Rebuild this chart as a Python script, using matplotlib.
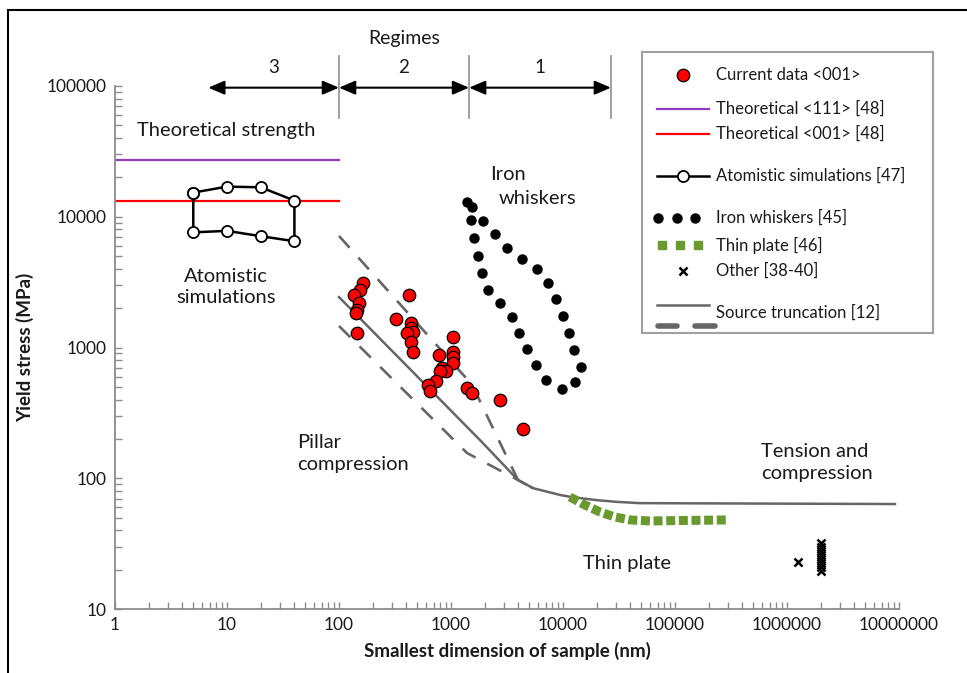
import matplotlib
matplotlib.use("Agg")
import matplotlib.pyplot as plt
from matplotlib.lines import Line2D
from matplotlib.ticker import LogLocator, NullFormatter, FixedLocator

plt.rcParams['font.family'] = ['Lato', 'DejaVu Sans']

# ---- data ----
theo_111 = 27300
theo_001 = 13200
theo_x = [1, 100]

atom_x = [5, 10, 20, 40, 40, 20, 10, 5, 5]
atom_y = [15300, 17000, 16800, 13300, 6500, 7100, 7800, 7600, 15300]

cur_x = [163, 154, 137, 151, 146, 142, 144, 419, 325, 439, 439, 455, 407, 439, 461,
         1042, 781, 1035, 1035, 1049, 826, 897, 797, 735, 627, 649, 1380, 1530, 2738, 4365]
cur_y = [3100, 2750, 2540, 2200, 1940, 1850, 1285, 2540, 1650, 1530, 1420, 1310, 1285, 1107, 925,
         1210, 881, 929, 842, 757, 693, 665, 661, 557, 517, 465, 493, 447, 397, 239]

whisk_x = [1381, 1531, 1500, 1941, 2472, 1604, 3184, 1754, 4278, 5818, 1879, 7396, 2127,
           8610, 2738, 9940, 3483, 11380, 4074, 12610, 4800, 14390, 5740, 7050, 12790, 9730]
whisk_y = [13040, 11940, 9440, 9330, 7340, 6920, 5740, 5040, 4750, 3985, 3690, 3130, 2750,
           2350, 2200, 1750, 1720, 1284, 1284, 957, 969, 706, 731, 564, 548, 479]

plate_x = [11500, 15700, 21400, 29100, 39600, 59800, 110000, 290000]
plate_y = [72, 62.4, 55.2, 50.5, 48.0, 47.1, 47.5, 48.0]

other_x = [1260000, 2000000, 2000000, 2000000, 2000000, 2000000, 2000000, 2000000, 2000000]
other_y = [23, 19.5, 21, 22.5, 24, 26, 28, 30, 32]

trunc_x = [100, 1890, 3960, 5400, 9400, 12300, 20000, 30000, 48700, 9200000]
trunc_y = [2430, 189, 97, 84, 74.5, 71.5, 68, 66, 64.5, 63.5]
trunc_hi_x = [100, 1540, 3960, 5400]
trunc_hi_y = [7130, 520, 97, 84]
trunc_lo_x = [100, 1390, 3960, 5400]
trunc_lo_y = [1460, 156, 97, 84]

regime_edges = [6.8, 100, 1450, 26800]
regime_names = ['3', '2', '1']

axis_grey = '#8c8c8c'
line_grey = '#666666'
txt = '#1a1a1a'

fig = plt.figure(figsize=(9.67, 6.73), dpi=100)
ax = fig.add_axes([115 / 967, 64 / 673, 784 / 967, 523 / 673])

ax.set_xscale('log')
ax.set_yscale('log')
ax.set_xlim(1, 1e7)
ax.set_ylim(10, 1e5)

# theoretical strength
ax.plot(theo_x, [theo_111, theo_111], color='#8e3fbf', lw=1.6)
ax.plot(theo_x, [theo_001, theo_001], color='#ff0000', lw=1.6)

# atomistic simulations
ax.plot(atom_x, atom_y, color='black', lw=1.8, marker='o', ms=8,
        mfc='white', mec='black', mew=1.3)

# source truncation
ax.plot(trunc_x, trunc_y, color=line_grey, lw=1.8)
ax.plot(trunc_hi_x, trunc_hi_y, color=line_grey, lw=1.9, ls=(0, (6, 5)))
ax.plot(trunc_lo_x, trunc_lo_y, color=line_grey, lw=1.9, ls=(0, (6, 5)))

# thin plate
ax.plot(plate_x, plate_y, color='#6a9a2e', lw=6.5, ls=(0, (1, 0.4)))

# iron whiskers
ax.plot(whisk_x, whisk_y, ls='none', marker='o', ms=6.5, color='black')

# current data
ax.plot(cur_x, cur_y, ls='none', marker='o', ms=9, mfc='#ff0000',
        mec='black', mew=0.9)

# other
ax.plot(other_x, other_y, ls='none', marker='x', ms=5.5, color='black', mew=1.8)

# axes styling
for s in ['top', 'right']:
    ax.spines[s].set_visible(False)
for s in ['left', 'bottom']:
    ax.spines[s].set_color(axis_grey)
    ax.spines[s].set_linewidth(1.3)

ax.xaxis.set_major_locator(FixedLocator([10 ** i for i in range(8)]))
ax.yaxis.set_major_locator(FixedLocator([10 ** i for i in range(1, 6)]))
ax.xaxis.set_minor_locator(LogLocator(base=10, subs=range(2, 10)))
ax.yaxis.set_minor_locator(LogLocator(base=10, subs=range(2, 10)))
ax.xaxis.set_minor_formatter(NullFormatter())
ax.yaxis.set_minor_formatter(NullFormatter())
ax.set_xticklabels([str(10 ** i) for i in range(8)])
ax.set_yticklabels([str(10 ** i) for i in range(1, 6)])
ax.tick_params(which='both', direction='in', color=axis_grey, width=1, length=5)
ax.tick_params(axis='x', which='major', pad=6, labelsize=12.5, labelcolor=txt)
ax.tick_params(axis='y', which='major', pad=6, labelsize=12.5, labelcolor=txt)

ax.set_xlabel('Smallest dimension of sample (nm)', fontsize=13.5, fontweight='bold',
              labelpad=6, color=txt)
ax.set_ylabel('Yield stress (MPa)', fontsize=13.5, fontweight='bold', labelpad=9, color=txt)

# region labels
tkw = dict(fontsize=14.5, color=txt)
ax.text(9.8, 45300, 'Theoretical strength', ha='center', va='center', **tkw)
ax.text(9.8, 2900, 'Atomistic\nsimulations', ha='center', va='center', linespacing=1.35, **tkw)
ax.text(2230, 21200, 'Iron', ha='left', va='center', **tkw)
ax.text(2683, 13670, 'whiskers', ha='left', va='center', **tkw)
ax.text(42, 154, 'Pillar\ncompression', ha='left', va='center', linespacing=1.35, **tkw)
ax.text(586000, 131, 'Tension and\ncompression', ha='left', va='center', linespacing=1.35, **tkw)
ax.text(15100, 22.1, 'Thin plate', ha='left', va='center', **tkw)

# regimes
xt = ax.get_xaxis_transform()
for b in regime_edges[1:]:
    ax.plot([b, b], [0.939, 1.057], transform=xt, clip_on=False, color='#999999', lw=1.3)
for i, name in enumerate(regime_names):
    x0, x1 = regime_edges[i], regime_edges[i + 1]
    ax.annotate('', xy=(x1, 0.9968), xytext=(x0, 0.9968), xycoords=xt, textcoords=xt,
                arrowprops=dict(arrowstyle='<|-|>,head_length=0.7,head_width=0.3',
                                color='black', lw=1.5, mutation_scale=14,
                                shrinkA=0, shrinkB=0),
                annotation_clip=False)
    xm = (x0 * x1) ** 0.5
    ax.text(xm, 1.036, name, transform=xt, ha='center', va='center', fontsize=13.5, color=txt)
ax.text((100 * 1450) ** 0.5, 1.09, 'Regimes', transform=xt, ha='center', va='center',
        fontsize=14, color=txt)

# legend drawn in its own pixel-space axes
lax = fig.add_axes([642 / 967, (673 - 333) / 673, 291 / 967, 281 / 673])
lax.set_xlim(642, 933)
lax.set_ylim(333, 52)
lax.set_xticks([])
lax.set_yticks([])
for s in lax.spines.values():
    s.set_color('#a0a0a0')
    s.set_linewidth(1.5)

lkw = dict(fontsize=12, color=txt, va='center', ha='left')
tx = 716
lax.plot([683], [75], 'o', ms=9, mfc='#ff0000', mec='black', mew=0.9)
lax.text(tx, 75, 'Current data <001>', **lkw)
lax.plot([657, 709], [109, 109], color='#8e3fbf', lw=1.6)
lax.text(tx, 109, 'Theoretical <111> [48]', **lkw)
lax.plot([657, 709], [134, 134], color='#ff0000', lw=1.6)
lax.text(tx, 134, 'Theoretical <001> [48]', **lkw)
lax.plot([657, 709], [176, 176], color='black', lw=1.8)
lax.plot([683], [176], 'o', ms=8, mfc='white', mec='black', mew=1.3)
lax.text(tx, 176, 'Atomistic simulations [47]', **lkw)
lax.plot([658, 677, 695], [218, 218, 218], 'o', ms=6.5, color='black', ls='none')
lax.text(tx, 218, 'Iron whiskers [45]', **lkw)
lax.plot([662, 680, 698], [245, 245, 245], 's', ms=5.5, color='#6a9a2e', ls='none')
lax.text(tx, 245, 'Thin plate [46]', **lkw)
lax.plot([683], [271], 'x', ms=5.5, color='black', mew=1.8)
lax.text(tx, 271, 'Other [38-40]', **lkw)
lax.plot([657, 709], [305, 305], color=line_grey, lw=1.8)
lax.plot([658, 677], [326, 326], color=line_grey, lw=4, solid_capstyle='round')
lax.plot([695, 715], [326, 326], color=line_grey, lw=4, solid_capstyle='round')
lax.text(tx, 313, 'Source truncation [12]', **lkw)

# outer frame (left and top edges visible)
fig.add_artist(Line2D([8 / 967, 8 / 967], [0, 1 - 10 / 673], color='black', lw=1.5,
                      transform=fig.transFigure))
fig.add_artist(Line2D([8 / 967, 1], [1 - 10 / 673, 1 - 10 / 673], color='black', lw=1.5,
                      transform=fig.transFigure))

fig.savefig('out.png', dpi=100)
